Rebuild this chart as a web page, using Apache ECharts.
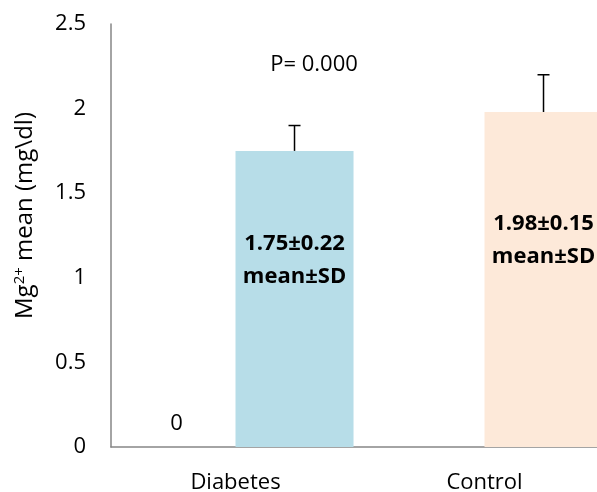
<!DOCTYPE html>
<html><head><meta charset="utf-8">
<script src="https://cdn.jsdelivr.net/npm/echarts@6/dist/echarts.min.js"></script>
<style>html,body{margin:0;padding:0;background:#fff}#c{width:597px;height:492px}</style>
</head><body><div id="c"></div>
<script>
var categories = ['Diabetes', 'Control'];
var zeroSeries = [0, null];
var means = [1.75, 1.98];
var errUp = [0.15, 0.22];
var barLabels = ['1.75±0.22\nmean±SD', '1.98±0.15\nmean±SD'];
var yTicks = {min: 0, max: 2.5, interval: 0.5};
var pText = 'P= 0.000';

var FONT = 'Open Sans';
var FS = 22;
var chart = echarts.init(document.getElementById('c'));
var BARFRAC = 0.474;
chart.setOption({
  animation: false,
  backgroundColor: '#fff',
  textStyle: {fontFamily: FONT},
  grid: {left: 111, top: 24, width: 498, height: 423, containLabel: false, outerBoundsMode: 'none'},
  xAxis: {
    type: 'category', data: categories,
    axisLine: {lineStyle: {color: '#868686', width: 1.5}},
    axisTick: {show: false},
    axisLabel: {color: '#000', fontSize: FS, fontFamily: FONT, margin: 25}
  },
  yAxis: {
    type: 'value', min: yTicks.min, max: yTicks.max, interval: yTicks.interval,
    axisLine: {show: true, lineStyle: {color: '#868686', width: 1.5}},
    axisTick: {show: false},
    splitLine: {show: false},
    axisLabel: {color: '#000', fontSize: FS, fontFamily: FONT, margin: 25},
    name: '{a|Mg}{s|2+}{a| mean (mg\\dl)}',
    nameLocation: 'middle', nameGap: 73, nameRotate: 90,
    nameTextStyle: {padding: [0, 0, 0, 40], rich: {
      a: {fontSize: 24, fontFamily: FONT, color: '#000'},
      s: {fontSize: 15, fontFamily: FONT, color: '#000', verticalAlign: 'top', padding: [0,0,11,0]}
    }}
  },
  series: [
    {
      type: 'bar', barWidth: (BARFRAC*100)+'%', barGap: '0%',
      data: zeroSeries,
      itemStyle: {color: '#4F81BD'},
      label: {show: true, position: 'top', distance: 12, color: '#000', fontSize: FS, fontFamily: FONT,
        formatter: function(p){ return p.value === null || p.value === undefined ? '' : String(p.value); }}
    },
    {
      type: 'bar', barWidth: (BARFRAC*100)+'%', barGap: '0%',
      data: means.map(function(v, i){ return {value: v, itemStyle: {color: i === 0 ? '#B7DDE8' : '#FDE9D9'}}; }),
      label: {show: true, position: 'inside', offset: [0, -39], color: '#000', fontSize: FS, fontWeight: 'bold',
        fontFamily: FONT, lineHeight: 33,
        formatter: function(p){ return barLabels[p.dataIndex]; }}
    },
    {
      type: 'custom',
      data: means.map(function(v, i){ return [i, v, v + errUp[i]]; }),
      renderItem: function(params, api){
        var bw = api.size([1, 0])[0];
        var off = bw * BARFRAC / 2;
        var p0 = api.coord([api.value(0), api.value(1)]);
        var p1 = api.coord([api.value(0), api.value(2)]);
        var x = p0[0] + off;
        var style = {stroke: '#000', lineWidth: 1.5};
        return {type: 'group', children: [
          {type: 'line', shape: {x1: x, y1: p0[1], x2: x, y2: p1[1]}, style: style},
          {type: 'line', shape: {x1: x - 6, y1: p1[1], x2: x + 6, y2: p1[1]}, style: style}
        ]};
      },
      z: 5
    }
  ],
  graphic: [{type: 'text', x: 314, y: 65, style: {text: pText, fontSize: FS, fontFamily: FONT, fill: '#000', align: 'center', verticalAlign: 'middle'}}]
});
</script></body></html>
